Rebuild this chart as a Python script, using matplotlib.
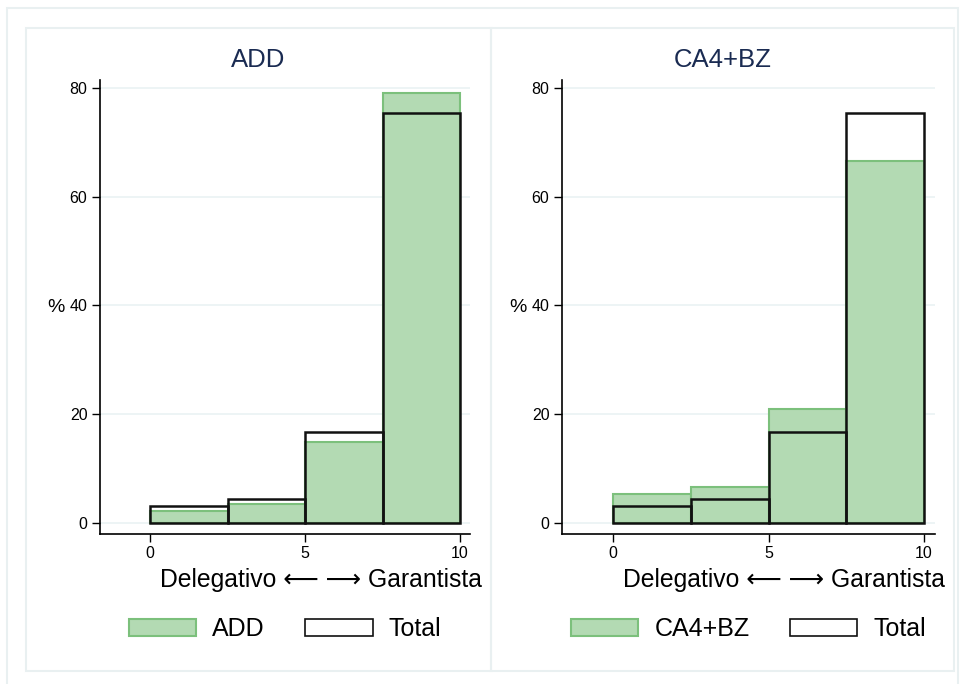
import matplotlib
matplotlib.use("Agg")
import matplotlib.pyplot as plt
from matplotlib.patches import Rectangle, Patch

plt.rcParams['font.family'] = ['Liberation Sans', 'DejaVu Sans']

bin_edges = [0, 2.5, 5, 7.5, 10]
panels = ["ADD", "CA4+BZ"]
add_pct = [2.1, 3.5, 14.8, 79.1]
ca4bz_pct = [5.3, 6.6, 20.9, 66.6]
total_pct = [3.0, 4.4, 16.6, 75.4]
group_values = [add_pct, ca4bz_pct]
xticks = [0, 5, 10]
yticks = [0, 20, 40, 60, 80]
xlabel = "Delegativo \u27f5 \u27f6 Garantista"

W, H = 961, 684
fig = plt.figure(figsize=(W / 100, H / 100), dpi=100)
fig.patch.set_facecolor("white")

def fx(px):
    return px / W

def fy(py):
    return 1 - py / H

border_col = "#e9f0f1"
fig.patches.append(Rectangle((fx(7), fy(690)), fx(958 - 7), (690 - 8) / H,
                             transform=fig.transFigure, fill=False,
                             edgecolor=border_col, lw=1.5))
panel_px = [(26, 491), (491, 954)]
for x0, x1 in panel_px:
    fig.patches.append(Rectangle((fx(x0), fy(671)), fx(x1 - x0), (671 - 28) / H,
                                 transform=fig.transFigure, fill=False,
                                 edgecolor=border_col, lw=1.5))

green_fill = "#b3dab3"
green_edge = "#7cc07c"
title_col = "#1a2b52"

axes_px = [(100, 470, 150, 460), (562, 935, 613, 924)]
top_px, bot_px = 80, 534
zero_px, eighty_px = 522.7, 88.0

for i, (name, vals) in enumerate(zip(panels, group_values)):
    axl, axr, x0p, x10p = axes_px[i]
    ax = fig.add_axes([fx(axl), fy(bot_px), fx(axr - axl), (bot_px - top_px) / H])
    ppu_x = (x10p - x0p) / 10
    ax.set_xlim((axl - x0p) / ppu_x, (axr - x0p) / ppu_x)
    ppu_y = (zero_px - eighty_px) / 80
    ax.set_ylim((zero_px - bot_px) / ppu_y, (zero_px - top_px) / ppu_y)

    lefts = bin_edges[:-1]
    widths = [bin_edges[k + 1] - bin_edges[k] for k in range(len(lefts))]
    ax.bar(lefts, vals, width=widths, align="edge", color=green_fill,
           edgecolor=green_edge, linewidth=1.5, zorder=2)
    ax.bar(lefts, total_pct, width=widths, align="edge", fill=False,
           edgecolor="#111111", linewidth=1.8, zorder=3)

    ax.set_yticks(yticks)
    ax.set_xticks(xticks)
    ax.tick_params(axis="both", labelsize=11.5, length=6, width=1, color="black",
                   direction="out", pad=3)
    ax.grid(axis="y", color="#eaf2f3", lw=1.2, zorder=0)
    ax.set_axisbelow(True)
    for s in ["top", "right"]:
        ax.spines[s].set_visible(False)
    for s in ["left", "bottom"]:
        ax.spines[s].set_linewidth(1.2)
        ax.spines[s].set_color("black")

    ax.set_ylabel("%", rotation=0, fontsize=14, labelpad=10, va="center")
    ax.set_xlabel(xlabel, fontsize=17.8, labelpad=4)
    ax.xaxis.set_label_coords(((axl + axr) / 2 + 36 - axl) / (axr - axl), -0.075)

    px0, px1 = panel_px[i]
    fig.text(fx((px0 + px1) / 2), fy(60), name, fontsize=18.5, color=title_col,
             ha="center", va="center")

    handles = [Patch(facecolor=green_fill, edgecolor=green_edge, lw=1.5, label=name),
               Patch(facecolor="white", edgecolor="#111111", lw=1.2, label="Total")]
    ax.legend(handles=handles, loc="center", bbox_to_anchor=(0.5, -0.21),
              ncol=2, frameon=False, fontsize=18, handlelength=2.7,
              handleheight=0.7, columnspacing=1.6, handletextpad=0.65)

fig.savefig("out.png", dpi=100, facecolor="white")
